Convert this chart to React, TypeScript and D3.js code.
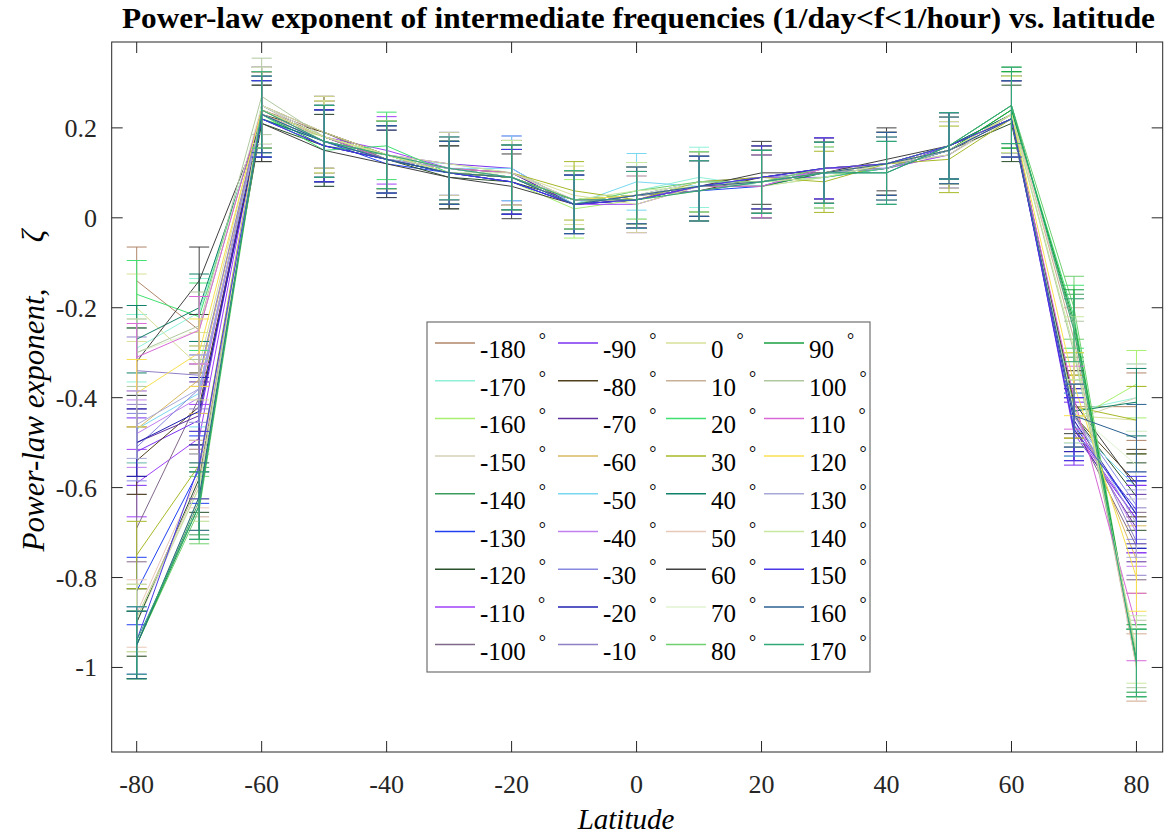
import React from "react";
import * as d3 from "d3";

const latitudes = [-80, -70, -60, -50, -40, -30, -20, -10, 0, 10, 20, 30, 40, 50, 60, 70, 80];
const longitudes = [-180, -170, -160, -150, -140, -130, -120, -110, -100, -90, -80, -70, -60, -50, -40, -30, -20, -10,
  0, 10, 20, 30, 40, 50, 60, 70, 80, 90, 100, 110, 120, 130, 140, 150, 160, 170];
const seriesColors = [
  "#b0866a", "#90f0d8", "#a8f070", "#d4d0b8", "#3c9c5c", "#2040f0", "#28502a", "#a040f8", "#806888",
  "#7a30f0", "#50401c", "#6030a0", "#d8b860", "#78d8f0", "#c080f0", "#8888e0", "#2020b0", "#9080c8",
  "#d8e098", "#c8b098", "#40e070", "#a8b828", "#108068", "#e8c8b8", "#404040", "#e0f4d0", "#70d070",
  "#18a040", "#b0c8a0", "#d868d8", "#f8e050", "#a8a8d8", "#c8e8a0", "#4838e8", "#2a6090", "#30a878",
];
// half-width of the error bars at each latitude
const errorHalf = [0.075, 0.075, 0.085, 0.08, 0.075, 0.07, 0.072, 0.065, 0.063, 0.067, 0.07, 0.068, 0.07, 0.074, 0.085, 0.07, 0.075];

const lonM180 = [-0.14, -0.25, 0.24, 0.19, 0.14, 0.11, 0.09, 0.04, 0.05, 0.07, 0.08, 0.10, 0.12, 0.15, 0.23, -0.42, -0.42];
const lonM170 = [-0.29, -0.21, 0.23, 0.17, 0.13, 0.12, 0.10, 0.03, 0.06, 0.09, 0.07, 0.09, 0.11, 0.16, 0.22, -0.43, -0.40];
const lonM160 = [-0.95, -0.62, 0.22, 0.18, 0.14, 0.10, 0.08, 0.02, 0.04, 0.06, 0.08, 0.11, 0.12, 0.15, 0.24, -0.45, -0.37];
const lonM150 = [-0.90, -0.60, 0.25, 0.17, 0.13, 0.11, 0.09, 0.04, 0.05, 0.08, 0.09, 0.10, 0.11, 0.14, 0.22, -0.45, -0.40];
const lonM140 = [-0.95, -0.63, 0.23, 0.16, 0.14, 0.10, 0.09, 0.03, 0.04, 0.07, 0.08, 0.10, 0.12, 0.16, 0.25, -0.24, -0.99];
const lonM130 = [-0.83, -0.56, 0.22, 0.17, 0.12, 0.10, 0.08, 0.03, 0.05, 0.06, 0.07, 0.11, 0.11, 0.15, 0.22, -0.46, -0.66];
const lonM120 = [-0.90, -0.58, 0.21, 0.16, 0.13, 0.09, 0.08, 0.04, 0.04, 0.07, 0.08, 0.10, 0.12, 0.15, 0.21, -0.44, -0.62];
const lonM110 = [-0.59, -0.49, 0.24, 0.18, 0.15, 0.11, 0.10, 0.03, 0.03, 0.07, 0.09, 0.09, 0.11, 0.14, 0.23, -0.47, -0.67];
const lonM100 = [-0.69, -0.40, 0.25, 0.19, 0.13, 0.10, 0.09, 0.04, 0.05, 0.08, 0.08, 0.10, 0.12, 0.15, 0.22, -0.46, -0.73];
const lonM90 = [-0.52, -0.45, 0.24, 0.18, 0.14, 0.12, 0.11, 0.03, 0.04, 0.07, 0.08, 0.10, 0.11, 0.16, 0.23, -0.48, -0.67];
const lonM80 = [-0.54, -0.42, 0.23, 0.19, 0.14, 0.10, 0.09, 0.04, 0.05, 0.06, 0.09, 0.11, 0.12, 0.15, 0.22, -0.44, -0.59];
const lonM70 = [-0.50, -0.44, 0.25, 0.18, 0.13, 0.11, 0.10, 0.03, 0.04, 0.07, 0.07, 0.10, 0.11, 0.15, 0.23, -0.47, -0.69];
const lonM60 = [-0.47, -0.36, 0.24, 0.17, 0.14, 0.10, 0.09, 0.04, 0.05, 0.07, 0.08, 0.10, 0.12, 0.16, 0.22, -0.42, -0.76];
const lonM50 = [-0.47, -0.39, 0.23, 0.17, 0.13, 0.11, 0.11, 0.03, 0.08, 0.07, 0.08, 0.10, 0.12, 0.15, 0.23, -0.46, -0.60];
const lonM40 = [-0.48, -0.40, 0.24, 0.18, 0.13, 0.10, 0.09, 0.04, 0.05, 0.07, 0.07, 0.11, 0.11, 0.15, 0.22, -0.45, -0.70];
const lonM30 = [-0.51, -0.38, 0.23, 0.17, 0.14, 0.11, 0.09, 0.03, 0.05, 0.08, 0.09, 0.10, 0.12, 0.14, 0.23, -0.44, -0.64];
const lonM20 = [-0.50, -0.43, 0.22, 0.16, 0.13, 0.10, 0.08, 0.03, 0.04, 0.07, 0.09, 0.11, 0.12, 0.16, 0.22, -0.45, -0.66];
const lonM10 = [-0.34, -0.35, 0.24, 0.17, 0.14, 0.11, 0.09, 0.04, 0.05, 0.06, 0.08, 0.10, 0.11, 0.15, 0.22, -0.43, -0.72];
const lon0 = [-0.20, -0.33, 0.25, 0.19, 0.14, 0.12, 0.10, 0.05, 0.03, 0.07, 0.07, 0.09, 0.12, 0.14, 0.23, -0.44, -0.45];
const lon10 = [-0.89, -0.59, 0.23, 0.18, 0.14, 0.11, 0.09, 0.04, 0.05, 0.07, 0.08, 0.10, 0.12, 0.15, 0.24, -0.27, -1.00];
const lon20 = [-0.17, -0.22, 0.23, 0.15, 0.16, 0.10, 0.09, 0.04, 0.05, 0.07, 0.08, 0.09, 0.11, 0.15, 0.24, -0.22, -0.99];
const lon30 = [-0.75, -0.55, 0.24, 0.18, 0.13, 0.11, 0.10, 0.06, 0.04, 0.08, 0.09, 0.08, 0.12, 0.13, 0.22, -0.42, -0.45];
const lon40 = [-0.27, -0.20, 0.22, 0.17, 0.13, 0.10, 0.09, 0.04, 0.05, 0.07, 0.08, 0.10, 0.10, 0.16, 0.23, -0.43, -0.41];
const lon50 = [-0.88, -0.57, 0.24, 0.18, 0.14, 0.11, 0.09, 0.04, 0.05, 0.07, 0.08, 0.10, 0.12, 0.15, 0.23, -0.25, -1.00];
const lon60 = [-0.32, -0.14, 0.21, 0.15, 0.12, 0.09, 0.07, 0.03, 0.05, 0.07, 0.10, 0.10, 0.13, 0.16, 0.22, -0.41, -0.60];
const lon70 = [-0.30, -0.25, 0.25, 0.18, 0.14, 0.11, 0.09, 0.04, 0.05, 0.08, 0.08, 0.10, 0.12, 0.15, 0.22, -0.43, -0.55];
const lon80 = [-0.95, -0.65, 0.23, 0.17, 0.14, 0.10, 0.09, 0.03, 0.06, 0.08, 0.08, 0.11, 0.12, 0.16, 0.25, -0.20, -0.99];
const lon90 = [-0.95, -0.64, 0.24, 0.18, 0.13, 0.10, 0.09, 0.04, 0.05, 0.07, 0.07, 0.10, 0.11, 0.15, 0.24, -0.23, -0.98];
const lon100 = [-0.30, -0.24, 0.27, 0.18, 0.14, 0.11, 0.09, 0.04, 0.05, 0.07, 0.08, 0.10, 0.12, 0.15, 0.23, -0.30, -0.97];
const lon110 = [-0.31, -0.25, 0.24, 0.18, 0.13, 0.11, 0.10, 0.04, 0.04, 0.07, 0.07, 0.11, 0.12, 0.15, 0.22, -0.40, -0.91];
const lon120 = [-0.39, -0.30, 0.24, 0.18, 0.14, 0.10, 0.09, 0.04, 0.05, 0.07, 0.08, 0.10, 0.12, 0.15, 0.23, -0.37, -0.80];
const lon130 = [-0.46, -0.38, 0.23, 0.17, 0.13, 0.11, 0.09, 0.03, 0.05, 0.07, 0.08, 0.10, 0.11, 0.15, 0.22, -0.44, -0.68];
const lon140 = [-0.89, -0.60, 0.24, 0.18, 0.14, 0.10, 0.10, 0.04, 0.06, 0.07, 0.08, 0.09, 0.12, 0.15, 0.23, -0.29, -0.96];
const lon150 = [-0.94, -0.55, 0.22, 0.16, 0.13, 0.10, 0.08, 0.03, 0.04, 0.07, 0.09, 0.11, 0.12, 0.16, 0.22, -0.47, -0.65];
const lon160 = [-0.95, -0.62, 0.23, 0.17, 0.13, 0.10, 0.09, 0.03, 0.05, 0.07, 0.08, 0.10, 0.12, 0.15, 0.22, -0.44, -0.49];
const lon170 = [-0.94, -0.64, 0.24, 0.17, 0.14, 0.11, 0.09, 0.04, 0.04, 0.06, 0.08, 0.10, 0.10, 0.16, 0.25, -0.25, -0.99];

const seriesValues = [
  lonM180, lonM170, lonM160, lonM150, lonM140, lonM130, lonM120, lonM110, lonM100,
  lonM90, lonM80, lonM70, lonM60, lonM50, lonM40, lonM30, lonM20, lonM10,
  lon0, lon10, lon20, lon30, lon40, lon50, lon60, lon70, lon80,
  lon90, lon100, lon110, lon120, lon130, lon140, lon150, lon160, lon170,
];

const xTickValues = [-80, -60, -40, -20, 0, 20, 40, 60, 80];
const yTickValues = [-1, -0.8, -0.6, -0.4, -0.2, 0, 0.2];

const titleText = "Power-law exponent of intermediate frequencies (1/day<f<1/hour) vs. latitude";
const FONT = "'Liberation Serif', 'Times New Roman', serif";
const AX = "#262626";

export default function App() {
  const left = 111.7, right = 1162.7, top = 42, bottom = 752;
  const x = d3.scaleLinear().domain([-84, 84.2]).range([left, right]);
  const y = d3.scaleLinear().domain([-1.188, 0.391]).range([bottom, top]);
  const line = d3.line<number>().x((_, i) => x(latitudes[i])).y((d) => y(d));
  const capHalf = 10;
  const tickLen = 11;

  const legendCols = [435, 558, 666, 764];
  const legendTextX = [480, 603, 711, 809];

  return (
    <svg width={1166} height={838} style={{ position: "absolute", left: 0, top: 0, background: "#fff" }} fontFamily={FONT}>
      <rect x={0} y={0} width={1166} height={838} fill="#fff" />
      <text x={638.5} y={28} textAnchor="middle" fontWeight="bold" fontSize={30} fill="#000"
        textLength={1033} lengthAdjust="spacingAndGlyphs">{titleText}</text>

      {/* series */}
      <g>
        {seriesValues.map((vals, s) => (
          <g key={s} stroke={seriesColors[s]} strokeWidth={1} fill="none">
            <path d={line(vals) || ""} />
            {vals.map((v, i) => {
              const cx = x(latitudes[i]);
              const e = errorHalf[i];
              return (
                <g key={i}>
                  <line x1={cx} x2={cx} y1={y(v - e)} y2={y(v + e)} />
                  <line x1={cx - capHalf} x2={cx + capHalf} y1={y(v - e)} y2={y(v - e)} />
                  <line x1={cx - capHalf} x2={cx + capHalf} y1={y(v + e)} y2={y(v + e)} />
                </g>
              );
            })}
          </g>
        ))}
      </g>

      {/* axes box */}
      <rect x={left} y={top} width={right - left} height={bottom - top} fill="none" stroke={AX} strokeWidth={1} />
      {xTickValues.map((t) => (
        <g key={"x" + t} stroke={AX}>
          <line x1={x(t)} x2={x(t)} y1={bottom} y2={bottom - tickLen} />
          <line x1={x(t)} x2={x(t)} y1={top} y2={top + tickLen} />
        </g>
      ))}
      {yTickValues.map((t) => (
        <g key={"y" + t} stroke={AX}>
          <line x1={left} x2={left + tickLen} y1={y(t)} y2={y(t)} />
          <line x1={right} x2={right - tickLen} y1={y(t)} y2={y(t)} />
        </g>
      ))}
      {xTickValues.map((t) => (
        <text key={"xl" + t} x={x(t)} y={793} textAnchor="middle" fontSize={26} fill={AX}>{String(t)}</text>
      ))}
      {yTickValues.map((t) => (
        <text key={"yl" + t} x={97} y={y(t) + 9} textAnchor="end" fontSize={26} fill={AX}>{String(t)}</text>
      ))}

      <text x={626} y={829} textAnchor="middle" fontStyle="italic" fontSize={29} fill="#000">Latitude</text>
      <text transform="translate(44,420) rotate(-90)" textAnchor="middle" fontStyle="italic" fontSize={31} fill="#000">Power-law exponent,</text>
      <text transform="translate(44,236) rotate(-90)" textAnchor="middle" fontStyle="italic" fontSize={31} fill="#000">ζ</text>

      {/* legend */}
      <rect x={427} y={322} width={443} height={350} fill="#fff" stroke="#707070" strokeWidth={1.2} />
      {longitudes.map((lon, k) => {
        const col = Math.floor(k / 9);
        const row = k % 9;
        const ly = 343 + row * 37.7;
        return (
          <g key={"lg" + lon}>
            <line x1={legendCols[col]} x2={legendCols[col] + 40} y1={ly} y2={ly} stroke={seriesColors[k]} strokeWidth={1.5} />
            <text x={legendTextX[col]} y={ly + 15} fontSize={25} fill="#000">
              {String(lon)}
              <tspan dx={13} dy={-12} fontSize={18}>°</tspan>
            </text>
          </g>
        );
      })}
    </svg>
  );
}
